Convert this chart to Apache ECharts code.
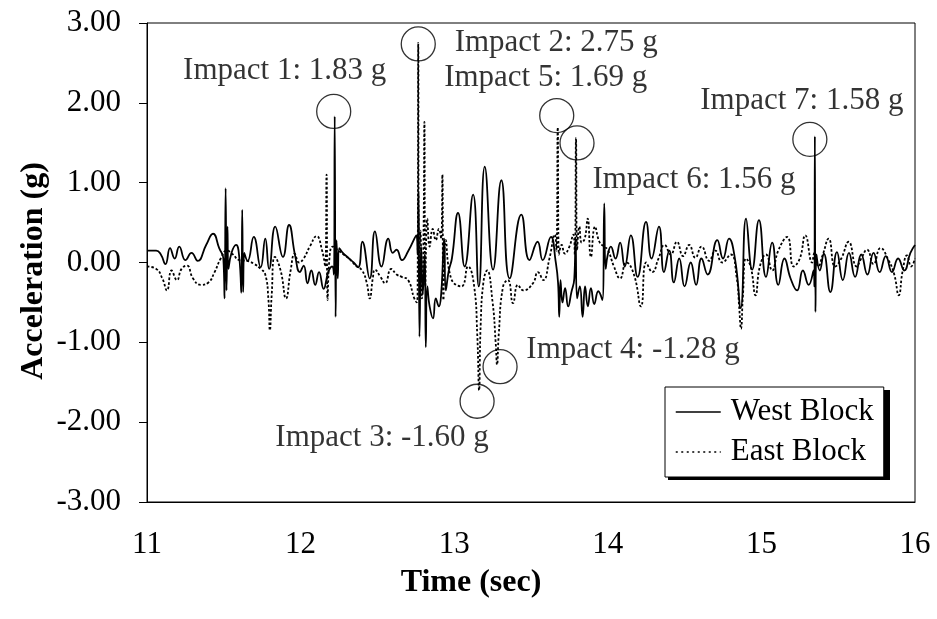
<!DOCTYPE html>
<html>
<head>
<meta charset="utf-8">
<script src="https://cdn.jsdelivr.net/npm/echarts@6/dist/echarts.min.js"></script>
<style>
  html, body { margin: 0; padding: 0; background: #fff; }
  #chart { width: 937px; height: 619px; }
</style>
</head>
<body>
<div id="chart"></div>
<script>
// Acceleration records [time (s), acceleration (g)]
const westSamples = [
  [11.000,0.15],[11.060,0.15],[11.090,0.10],[11.120,-0.02],[11.150,0.18],[11.180,0.05],[11.210,0.20],[11.250,0.03],
  [11.290,0.12],[11.330,0.02],[11.385,0.22],[11.430,0.36],[11.470,0.18],[11.497,0.05],[11.505,-0.45],[11.512,0.93],
  [11.518,-0.35],[11.524,0.45],[11.530,-0.08],[11.550,0.12],[11.580,0.22],[11.600,0.08],[11.614,-0.38],[11.620,0.66],
  [11.626,-0.37],[11.633,0.12],[11.655,0.02],[11.695,0.32],[11.740,-0.06],[11.770,0.30],[11.795,-0.08],[11.835,0.45],
  [11.885,0.07],[11.925,0.47],[11.965,0.08],[11.995,-0.12],[12.020,-0.04],[12.045,-0.26],[12.070,-0.10],[12.095,-0.28],
  [12.120,-0.12],[12.150,-0.33],[12.180,-0.12],[12.205,-0.05],[12.217,-0.15],[12.222,1.83],[12.228,-0.68],[12.234,0.28],
  [12.242,-0.20],[12.252,0.18],[12.275,0.12],[12.310,0.06],[12.345,0.00],[12.375,-0.06],[12.402,0.26],[12.450,-0.20],
  [12.484,0.39],[12.527,-0.05],[12.571,0.30],[12.600,0.12],[12.625,0.16],[12.660,0.03],[12.700,0.14],[12.754,0.34],
  [12.762,0.10],[12.768,0.87],[12.774,-0.93],[12.785,0.20],[12.795,-0.40],[12.808,0.10],[12.815,-1.06],[12.825,-0.30],
  [12.840,-0.55],[12.862,-0.70],[12.880,-0.45],[12.900,-0.55],[12.915,-0.40],[12.935,0.30],[12.945,-0.35],[12.965,-0.10],
  [12.985,0.05],[13.025,0.62],[13.068,-0.05],[13.123,0.85],[13.160,-0.30],[13.199,1.20],[13.253,-0.09],[13.307,1.03],
  [13.361,-0.20],[13.437,0.60],[13.490,0.03],[13.543,0.26],[13.576,0.03],[13.630,0.32],[13.660,0.02],[13.676,-0.25],
  [13.684,-0.68],[13.692,-0.22],[13.705,-0.50],[13.722,-0.32],[13.742,-0.55],[13.762,-0.38],[13.782,-0.20],[13.790,0.30],
  [13.800,-0.45],[13.818,-0.30],[13.836,-0.68],[13.852,-0.30],[13.870,-0.55],[13.890,-0.32],[13.912,-0.52],[13.938,-0.36],
  [13.965,-0.47],[13.977,0.74],[13.986,-0.08],[14.000,0.10],[14.020,0.20],[14.050,0.05],[14.080,0.25],[14.110,-0.05],
  [14.150,0.34],[14.194,-0.18],[14.249,0.51],[14.285,0.05],[14.333,0.45],[14.366,-0.12],[14.400,0.15],[14.430,-0.25],
  [14.465,0.05],[14.500,-0.30],[14.540,0.00],[14.575,-0.28],[14.610,0.05],[14.650,-0.15],[14.713,0.28],[14.750,0.05],
  [14.789,0.30],[14.830,0.02],[14.865,-0.57],[14.900,0.55],[14.940,-0.09],[14.984,0.53],[15.030,-0.18],[15.070,0.25],
  [15.110,-0.28],[15.150,0.05],[15.190,-0.20],[15.232,-0.35],[15.270,-0.10],[15.308,-0.28],[15.340,-0.10],[15.345,-0.30],
  [15.348,1.58],[15.352,-0.62],[15.358,0.10],[15.380,-0.10],[15.406,0.11],[15.449,-0.37],[15.492,0.13],[15.530,-0.22],
  [15.570,0.12],[15.610,-0.18],[15.650,0.10],[15.690,-0.15],[15.730,0.12],[15.770,-0.12],[15.810,0.08],[15.850,-0.12],
  [15.890,0.05],[15.930,-0.10],[15.970,0.12],[16.000,0.22]
];

const eastSamples = [
  [11.000,-0.05],[11.060,-0.08],[11.100,-0.20],[11.130,-0.35],[11.160,-0.10],[11.195,-0.22],[11.225,-0.08],[11.260,-0.04],
  [11.300,-0.20],[11.350,-0.28],[11.400,-0.25],[11.440,-0.12],[11.480,0.05],[11.520,0.15],[11.560,0.10],[11.600,0.03],
  [11.650,0.02],[11.700,-0.02],[11.740,-0.08],[11.770,-0.15],[11.790,-0.45],[11.800,-0.85],[11.812,-0.40],[11.833,0.07],
  [11.870,-0.10],[11.905,-0.45],[11.935,-0.10],[11.962,0.11],[11.990,0.00],[12.020,0.05],[12.060,0.20],[12.104,0.33],
  [12.140,0.15],[12.160,-0.05],[12.169,1.10],[12.176,-0.47],[12.190,0.10],[12.210,0.20],[12.240,0.16],[12.280,0.10],
  [12.320,0.04],[12.360,-0.04],[12.400,-0.10],[12.430,-0.25],[12.450,-0.45],[12.470,-0.20],[12.484,-0.09],[12.520,-0.18],
  [12.550,-0.26],[12.590,-0.08],[12.625,-0.15],[12.658,-0.18],[12.700,-0.22],[12.740,-0.45],[12.756,-0.50],[12.762,-0.30],
  [12.766,2.75],[12.771,-0.20],[12.780,0.40],[12.790,-0.45],[12.800,0.30],[12.806,1.76],[12.812,-0.30],[12.825,0.55],
  [12.840,0.20],[12.860,0.42],[12.880,0.28],[12.900,0.42],[12.915,0.30],[12.923,1.10],[12.930,-0.47],[12.945,0.28],
  [12.980,-0.20],[13.047,-0.30],[13.090,-0.05],[13.130,-0.30],[13.150,-0.90],[13.162,-1.60],[13.172,-0.80],[13.190,-0.25],
  [13.214,-0.10],[13.250,-0.50],[13.270,-1.00],[13.279,-1.28],[13.290,-0.90],[13.318,-0.30],[13.350,-0.22],[13.383,-0.51],
  [13.415,-0.28],[13.450,-0.35],[13.513,-0.26],[13.545,-0.12],[13.580,-0.22],[13.620,0.05],[13.655,0.35],[13.665,0.15],
  [13.674,1.69],[13.682,0.10],[13.700,0.22],[13.720,0.11],[13.750,0.20],[13.775,0.35],[13.785,0.10],[13.793,1.56],
  [13.800,0.15],[13.815,0.45],[13.830,0.25],[13.850,0.30],[13.869,0.55],[13.890,0.07],[13.917,0.45],[13.945,0.26],
  [13.975,0.20],[14.000,0.16],[14.040,-0.05],[14.080,-0.20],[14.120,0.00],[14.170,-0.15],[14.216,-0.55],[14.250,0.00],
  [14.290,-0.12],[14.330,0.05],[14.370,0.22],[14.410,0.10],[14.450,0.26],[14.490,0.08],[14.530,0.22],[14.570,0.06],
  [14.610,0.20],[14.660,0.02],[14.700,0.15],[14.745,0.00],[14.800,0.10],[14.840,-0.20],[14.855,-0.55],[14.867,-0.83],
  [14.880,-0.40],[14.900,0.05],[14.930,-0.05],[14.962,-0.41],[14.990,-0.05],[15.030,0.10],[15.070,-0.10],[15.110,0.15],
  [15.168,0.32],[15.210,-0.05],[15.250,0.05],[15.286,0.34],[15.330,0.00],[15.345,0.12],[15.370,-0.05],[15.400,0.10],
  [15.438,0.30],[15.480,-0.05],[15.520,0.05],[15.568,0.26],[15.620,-0.05],[15.650,0.05],[15.688,0.16],[15.730,-0.02],
  [15.775,0.18],[15.830,0.02],[15.865,-0.15],[15.894,-0.41],[15.920,-0.10],[15.948,0.09],[15.975,-0.05],[16.000,0.05]
];

// Peak impacts: which record and at what time
const impactNames = ['Impact 1', 'Impact 2', 'Impact 3', 'Impact 4', 'Impact 5', 'Impact 6', 'Impact 7'];
const impactTimes = [12.222, 12.766, 13.162, 13.279, 13.674, 13.793, 15.348];
const impactBlocks = ['West Block', 'East Block', 'East Block', 'East Block', 'East Block', 'East Block', 'West Block'];

const seriesNames = ['West Block', 'East Block'];

// Annotation layout in pixels: ring centre relative to the peak, text centre relative to the peak
const ringShift = [[-1, -5], [0, 1], [-2, 11], [3, 2], [-1, -12], [1, 5], [-5, 3]];
const textShift = [[-50, -46], [138, 0], [-97, 48], [136, -15], [-12, -50], [118, 42], [-13, -36]];

const FONT = '"Liberation Serif", "Times New Roman", serif';

function peakValue(block, t) {
  const src = block === 'West Block' ? westSamples : eastSamples;
  const hit = src.find(p => Math.abs(p[0] - t) < 1e-9);
  return hit[1];
}

const impactPoints = impactTimes.map((t, i) => {
  const g = peakValue(impactBlocks[i], t);
  return {
    value: [t, g],
    name: impactNames[i],
    symbolOffset: ringShift[i],
    label: {
      offset: [textShift[i][0] - ringShift[i][0], textShift[i][1] - ringShift[i][1]],
      formatter: impactNames[i] + ': ' + g.toFixed(2) + ' g'
    }
  };
});

// Legend box geometry (px) and its drop shadow
const legendBox = { left: 665, top: 387, width: 222, height: 90 };

const chart = echarts.init(document.getElementById('chart'), null, { renderer: 'canvas' });

chart.setOption({
  animation: false,
  backgroundColor: '#fff',
  grid: {
    left: 147, top: 23, width: 768, height: 479,
    show: true, borderColor: '#000', borderWidth: 1, backgroundColor: 'transparent'
  },
  xAxis: {
    type: 'value', min: 11, max: 16, interval: 1,
    axisLine: { show: true, onZero: false, lineStyle: { color: '#000', width: 1 } },
    axisTick: { show: false },
    splitLine: { show: false },
    axisLabel: {
      color: '#000', fontFamily: FONT, fontSize: 31, margin: 27,
      showMinLabel: true, showMaxLabel: true
    }
  },
  yAxis: {
    type: 'value', min: -3, max: 3, interval: 1,
    axisLine: { show: true, onZero: false, lineStyle: { color: '#000', width: 1 } },
    axisTick: { show: true, inside: false, length: 8, lineStyle: { color: '#000', width: 1 } },
    splitLine: { show: false },
    axisLabel: {
      color: '#000', fontFamily: FONT, fontSize: 31, margin: 26,
      formatter: v => v.toFixed(2)
    }
  },
  legend: {
    data: [
      { name: 'West Block', lineStyle: { type: 'solid', width: 1.5 } },
      { name: 'East Block', lineStyle: { type: [2, 3.5], width: 1.5 } }
    ],
    orient: 'vertical',
    left: legendBox.left, top: legendBox.top,
    padding: [7, 10, 7, 10],
    itemWidth: 45, itemHeight: 14, itemGap: 4,
    itemStyle: { color: 'rgba(0,0,0,0)', borderWidth: 0, opacity: 0 },
    backgroundColor: '#fff',
    borderColor: '#000', borderWidth: 1,
    z: 6,
    textStyle: {
      color: '#000', fontFamily: FONT, fontSize: 31, lineHeight: 36,
      padding: [0, 0, 0, 5]
    }
  },
  graphic: [
    {
      type: 'rect', z: 5,
      shape: { x: legendBox.left + 3, y: legendBox.top + 3, width: legendBox.width, height: legendBox.height },
      style: { fill: '#000' }
    },
    {
      type: 'text', x: 34, y: 271, rotation: Math.PI / 2,
      style: {
        text: 'Acceleration (g)', fill: '#000',
        font: 'bold 32px ' + FONT, align: 'center', verticalAlign: 'middle'
      }
    },
    {
      type: 'text', x: 471, y: 583,
      style: {
        text: 'Time (sec)', fill: '#000',
        font: 'bold 32px ' + FONT, align: 'center', verticalAlign: 'middle'
      }
    }
  ],
  series: [
    {
      name: 'East Block', type: 'line', data: eastSamples,
      symbol: 'none', smooth: 0.5, z: 2,
      itemStyle: { color: '#000' },
      lineStyle: { color: '#000', width: 1.8, type: [2.5, 2] }
    },
    {
      name: 'West Block', type: 'line', data: westSamples,
      symbol: 'none', smooth: 0.5, z: 3,
      itemStyle: { color: '#000' },
      lineStyle: { color: '#000', width: 1.8, type: 'solid' }
    },
    {
      name: 'Impacts', type: 'scatter', data: impactPoints,
      symbol: 'circle', symbolSize: 34, z: 5,
      itemStyle: { color: 'rgba(0,0,0,0)', borderColor: '#000', borderWidth: 1.3 },
      label: {
        show: true, position: 'inside', color: '#000',
        fontFamily: FONT, fontSize: 31, align: 'center', verticalAlign: 'middle'
      },
      emphasis: { disabled: true }
    }
  ]
});
</script>
</body>
</html>
